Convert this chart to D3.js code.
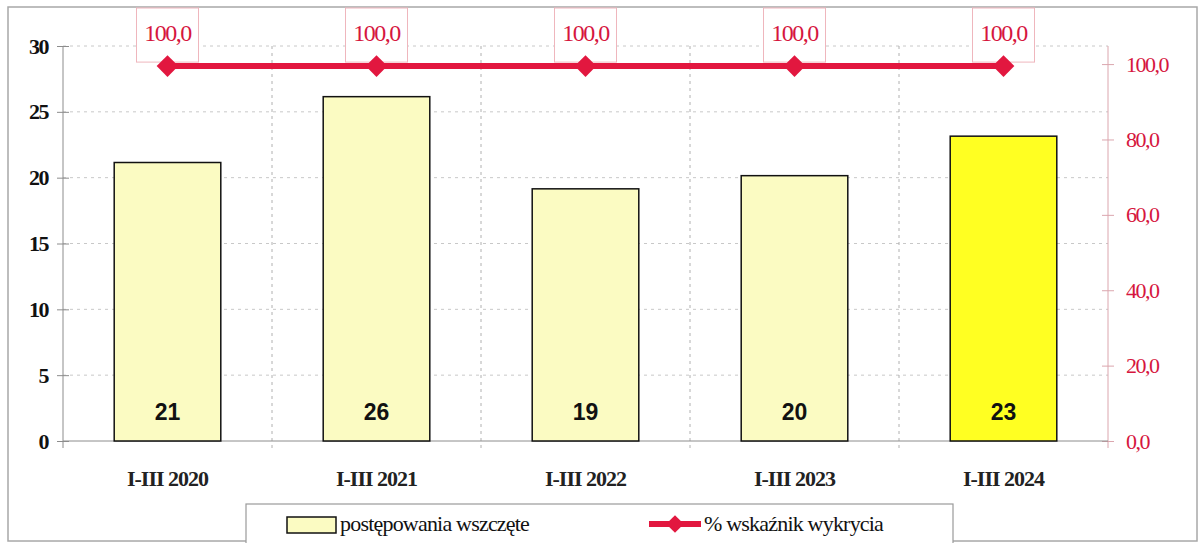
<!DOCTYPE html>
<html>
<head>
<meta charset="utf-8">
<script src="https://cdn.jsdelivr.net/npm/d3@7"></script>
<style>
  body { margin: 0; background: #fff; }
</style>
</head>
<body>
<svg id="chart" width="1200" height="543"></svg>
<script>
/* ------------------------- DATA ------------------------- */
var categories = ["I-III 2020", "I-III 2021", "I-III 2022", "I-III 2023", "I-III 2024"]
var wszczete = [21, 26, 19, 20, 23]          // postępowania wszczęte
var wskaznik = [100.0, 100.0, 100.0, 100.0, 100.0]   // % wskaźnik wykrycia
var leftTicks = [0, 5, 10, 15, 20, 25, 30]
var rightTicks = [0, 20, 40, 60, 80, 100]

var red = "#e2173f"
var redText = "#d6163e"
var serif = "'Liberation Serif', 'Times New Roman', serif"
var sans = "'Liberation Sans', Arial, sans-serif"

/* ------------------------- SCALES ------------------------- */
let svg = d3.select("#chart")

let plotLeft = 63, plotRight = 1108, plotTop = 46, plotBottom = 441

let x = d3.scaleBand().domain(categories).range([plotLeft, plotRight])
    .paddingInner(0.49).paddingOuter(0.245)
let step = x.step()

let yL = d3.scaleLinear().domain([0, 30]).range([plotBottom, plotTop])
let yR = d3.scaleLinear().domain([0, 104.8]).range([plotBottom, plotTop])

// outer frame
svg.append("rect").attr("x", 8).attr("y", 7).attr("width", 1189).attr("height", 534)
    .attr("fill", "#fff").attr("stroke", "#a8a8a8").attr("stroke-width", 1.5)

/* ------------------------- GRID ------------------------- */
svg.append("g").selectAll("line")
    .data(leftTicks.filter(d => d > 0))
    .enter().append("line")
        .attr("x1", plotLeft).attr("x2", plotRight)
        .attr("y1", d => yL(d)).attr("y2", d => yL(d))
        .attr("stroke", "#c8c8c8").attr("stroke-dasharray", "3,4")

svg.append("g").selectAll("line")
    .data(categories.slice(1))
    .enter().append("line")
        .attr("x1", d => x(d) - step * 0.245).attr("x2", d => x(d) - step * 0.245)
        .attr("y1", plotTop).attr("y2", plotBottom + 7)
        .attr("stroke", "#b0b0b0").attr("stroke-dasharray", "3,4")

/* ------------------------- AXES ------------------------- */
let axL = svg.append("g").attr("transform", "translate(" + plotLeft + ",0)")
    .call(d3.axisLeft(yL).tickValues(leftTicks).tickSize(6).tickPadding(9))
axL.attr("font-family", null)
axL.select(".domain").attr("stroke", "#8c8c8c").attr("d", "M0," + plotTop + "V" + (plotBottom + 7))
axL.selectAll(".tick line").attr("x1", 6).attr("stroke", "#8c8c8c")
axL.selectAll(".tick text")
    .attr("font-family", serif).attr("font-size", 22).attr("font-weight", "bold")
    .attr("letter-spacing", -1.5).attr("fill", "#111")

let axR = svg.append("g").attr("transform", "translate(" + plotRight + ",0)")
    .call(d3.axisRight(yR).tickValues(rightTicks).tickSize(6).tickPadding(12)
        .tickFormat(d => d3.format(".1f")(d).replace(".", ",")))
axR.attr("font-family", null)
axR.select(".domain").attr("stroke", "#dba6ae").attr("d", "M0," + plotTop + "V" + (plotBottom + 7))
axR.selectAll(".tick line").attr("x1", -6).attr("stroke", "#dba6ae")
axR.selectAll(".tick text")
    .attr("font-family", serif).attr("font-size", 22)
    .attr("letter-spacing", -1.5).attr("fill", redText)

// baseline
svg.append("line").attr("x1", plotLeft).attr("x2", plotRight)
    .attr("y1", plotBottom).attr("y2", plotBottom).attr("stroke", "#8c8c8c")

// category labels
svg.append("g").selectAll("text")
    .data(categories)
    .enter().append("text")
        .attr("x", d => x(d) + x.bandwidth() / 2).attr("y", 486)
        .attr("text-anchor", "middle")
        .attr("font-family", serif)
        .attr("font-size", 22).attr("font-weight", "bold").attr("letter-spacing", -1)
        .attr("fill", "#222")
        .text(d => d)

/* ------------------------- BARS ------------------------- */
svg.append("g").selectAll("rect")
    .data(wszczete)
    .enter().append("rect")
        .attr("x", (d, i) => x(categories[i]))
        .attr("y", d => yL(d) - 2)
        .attr("width", x.bandwidth())
        .attr("height", d => plotBottom - yL(d) + 2)
        .attr("fill", (d, i) => i == categories.length - 1 ? "#ffff22" : "#fbfbc2")
        .attr("stroke", "#111").attr("stroke-width", 1.5)

svg.append("g").selectAll("text")
    .data(wszczete)
    .enter().append("text")
        .attr("x", (d, i) => x(categories[i]) + x.bandwidth() / 2)
        .attr("y", 420)
        .attr("text-anchor", "middle")
        .attr("font-family", sans).attr("font-size", 23).attr("font-weight", "bold")
        .attr("fill", "#111")
        .text(d => d)

/* ------------------------- LINE ------------------------- */
let cx = (d, i) => x(categories[i]) + x.bandwidth() / 2

// label boxes
let labels = svg.append("g").selectAll("g")
    .data(wskaznik)
    .enter().append("g")
labels.append("rect")
    .attr("x", (d, i) => cx(d, i) - 31).attr("y", 8)
    .attr("width", 62).attr("height", d => yR(d) - 10)
    .attr("fill", "#fff").attr("stroke", "#efb6bd")
labels.append("text")
    .attr("x", (d, i) => cx(d, i)).attr("y", 41)
    .attr("text-anchor", "middle")
    .attr("font-family", serif)
    .attr("font-size", 24).attr("letter-spacing", -1.5)
    .attr("fill", redText)
    .text(d => d3.format(".1f")(d).replace(".", ","))

svg.append("path")
    .datum(wskaznik)
    .attr("fill", "none").attr("stroke", red).attr("stroke-width", 6)
    .attr("d", d3.line().x((d, i) => cx(d, i)).y(d => yR(d) + 2))

svg.append("g").selectAll("path")
    .data(wskaznik)
    .enter().append("path")
        .attr("transform", (d, i) => "translate(" + cx(d, i) + "," + (yR(d) + 2) + ")")
        .attr("d", d3.symbol().type(d3.symbolDiamond2).size(300))
        .attr("fill", red)

/* ------------------------- LEGEND ------------------------- */
let legend = svg.append("g")
legend.append("rect").attr("x", 246).attr("y", 504).attr("width", 707).attr("height", 45)
    .attr("fill", "#fff").attr("stroke", "#9a9a9a").attr("stroke-width", 1.2)
legend.append("rect").attr("x", 287).attr("y", 517).attr("width", 49).attr("height", 16)
    .attr("fill", "#fbfbc2").attr("stroke", "#111").attr("stroke-width", 1.5)
legend.append("text").attr("x", 340).attr("y", 531)
    .attr("font-family", serif)
    .attr("font-size", 22).attr("letter-spacing", -0.8).attr("fill", "#111")
    .text("postępowania wszczęte")
legend.append("line").attr("x1", 649).attr("x2", 701).attr("y1", 524).attr("y2", 524)
    .attr("stroke", red).attr("stroke-width", 6)
legend.append("path").attr("transform", "translate(675,524)")
    .attr("d", d3.symbol().type(d3.symbolDiamond2).size(200)).attr("fill", red)
legend.append("text").attr("x", 704).attr("y", 531)
    .attr("font-family", serif)
    .attr("font-size", 22).attr("letter-spacing", -0.8).attr("fill", "#111")
    .text("% wskaźnik wykrycia")
</script>
</body>
</html>
